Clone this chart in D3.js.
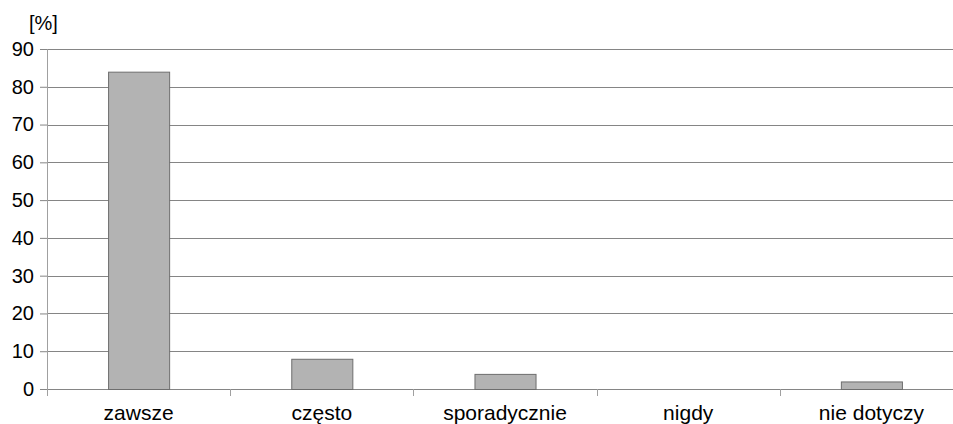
<!DOCTYPE html>
<html>
<head>
<meta charset="utf-8">
<script src="https://cdn.jsdelivr.net/npm/d3@7"></script>
<style>
body { margin:0; background:#fff; }
svg { display:block; font-family:"Liberation Sans", Arial, sans-serif; }
</style>
</head>
<body>
<svg id="chart"></svg>
<script>
const categories = ['zawsze', 'często', 'sporadycznie', 'nigdy', 'nie dotyczy'];
const values = [84, 8, 4, 0, 2];
const yTicks = [0, 10, 20, 30, 40, 50, 60, 70, 80, 90];

const W = 953, H = 424;
const margin = { top: 49, right: -10, bottom: 35, left: 47 };
const width = W - margin.left - margin.right;
const height = H - margin.top - margin.bottom;

const svg = d3.select('#chart').attr('width', W).attr('height', H);
const g = svg.append('g').attr('transform', `translate(${margin.left},${margin.top})`);

// scales
const x = d3.scaleBand().domain(categories).range([0, width]).paddingInner(0).paddingOuter(0);
const y = d3.scaleLinear().domain([0, 90]).range([height, 0]);

// gridlines
g.selectAll('.grid').data(yTicks).enter().append('line')
    .attr('x1', 0).attr('x2', width)
    .attr('y1', d => Math.round(y(d)) + 0.5).attr('y2', d => Math.round(y(d)) + 0.5)
    .attr('stroke', '#858585').attr('stroke-width', 1);

// y axis
const yAxis = d3.axisLeft(y).tickValues(yTicks).tickSize(7).tickPadding(6);
const ya = g.append('g').call(yAxis);
ya.select('.domain').attr('stroke', '#a0a0a0');
ya.selectAll('.tick line').attr('stroke', '#858585');
ya.selectAll('.tick text').attr('font-size', 20).attr('fill', '#000')
    .attr('font-family', '"Liberation Sans", Arial, sans-serif');

// bars
const bw = x.bandwidth() / 3;
g.selectAll('.bar').data(values).enter().append('rect')
    .attr('x', (d, i) => x(categories[i]) + x.bandwidth() / 2 - bw / 2 + 0.5)
    .attr('y', d => y(d) + 0.5)
    .attr('width', bw)
    .attr('height', d => height - y(d))
    .attr('fill', d => d > 0 ? '#b3b3b3' : 'none')
    .attr('stroke', d => d > 0 ? '#6e6e6e' : 'none')
    .attr('stroke-width', 1);

// x axis
const xAxis = d3.axisBottom(x).tickSize(0).tickPadding(16);
const xa = g.append('g').attr('transform', `translate(0,${height})`).call(xAxis);
xa.select('.domain').remove();
xa.selectAll('.tick text').attr('font-size', 21).attr('fill', '#000')
    .attr('font-family', '"Liberation Sans", Arial, sans-serif');

// category separators
const seps = categories.map(c => x(c)).concat([width]);
g.selectAll('.sep').data(seps).enter().append('line')
    .attr('x1', d => Math.round(d) + 0.5).attr('x2', d => Math.round(d) + 0.5)
    .attr('y1', height).attr('y2', height + 7)
    .attr('stroke', '#a0a0a0');

// unit label
svg.append('text').attr('x', 29).attr('y', 30).attr('font-size', 20).text('[%]');
</script>
</body>
</html>
